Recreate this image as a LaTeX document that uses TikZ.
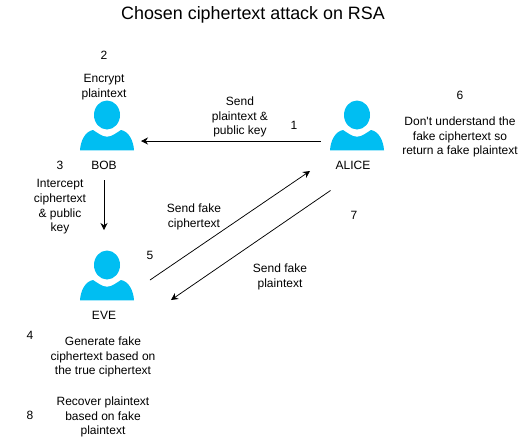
\documentclass[tikz,border=0pt]{standalone}
\usepackage{fontspec}
\setmainfont{Liberation Sans}
\usetikzlibrary{arrows.meta}
\definecolor{usercolor}{HTML}{00BEF2}
\tikzset{
lbl/.style={align=center,inner sep=0pt,font=\fontsize{12}{14.6}\selectfont},
para/.style={lbl,yshift=-2pt},
arr/.style={-{Stealth[length=7pt,width=7pt]},line width=0.75pt,black},
person/.pic={
\fill[usercolor] (0,0) ellipse (13 and 14.5);
\fill[usercolor] (-27,35.3)..controls (-26.5,26) and (-22,16.5) ..(-14,15)
..controls (-9,18) and (-5,21.7) ..(0,21.7)
..controls (5,21.7) and (9,18) ..(14,15)
..controls (22,16.5) and (26.5,26) ..(27,35.3)--cycle;
}
}
\begin{document}
\begin{tikzpicture}[x=1pt,y=-1pt]
\useasboundingbox (0,0) rectangle (521,437);
\node[font=\fontsize{17.9}{22}\selectfont,inner sep=0pt] (title) at (253,15) {Chosen ciphertext attack on RSA};
\pic at (107,115) {person};
\pic at (357,115) {person};
\pic at (107,265) {person};
\node[lbl] (bob) at (104,165) {BOB};
\node[lbl] (alice) at (353,165) {ALICE};
\node[lbl] (eve) at (104,315) {EVE};
\node[lbl] (n1) at (294,125) {1};
\node[lbl] (n2) at (104,55) {2};
\node[lbl] (n3) at (60,165) {3};
\node[lbl] (n4) at (30,335) {4};
\node[lbl] (n5) at (150,255) {5};
\node[lbl] (n6) at (460,95) {6};
\node[lbl] (n7) at (354,215) {7};
\node[lbl] (n8) at (30,415) {8};
\node[para] (encrypt) at (104,85) {Encrypt\\plaintext};
\node[para] (sendkey) at (240,115) {Send\\plaintext \&\\public key};
\node[para] (intercept) at (60,205) {Intercept\\ciphertext\\\& public\\key};
\node[para] (confused) at (460,135) {Don\textquotesingle t understand the\\fake ciphertext so\\return a fake plaintext};
\node[para] (sendcipher) at (194,215) {Send fake\\ciphertext};
\node[para] (sendplain) at (280,275) {Send fake\\plaintext};
\node[para] (generate) at (103,355) {Generate fake\\ciphertext based on\\the true ciphertext};
\node[para] (recover) at (103,415) {Recover plaintext\\based on fake\\plaintext};
\coordinate (a1) at (320.5,141);
\coordinate (a2) at (141,141);
\coordinate (b1) at (104,180);
\coordinate (b2) at (104,230);
\coordinate (c1) at (150,280);
\coordinate (c2) at (310,171);
\coordinate (d1) at (330.5,190.5);
\coordinate (d2) at (171,300);
\draw[arr] (a1)--(a2);
\draw[arr] (b1)--(b2);
\draw[arr] (c1)--(c2);
\draw[arr] (d1)--(d2);
\end{tikzpicture}
\end{document}
